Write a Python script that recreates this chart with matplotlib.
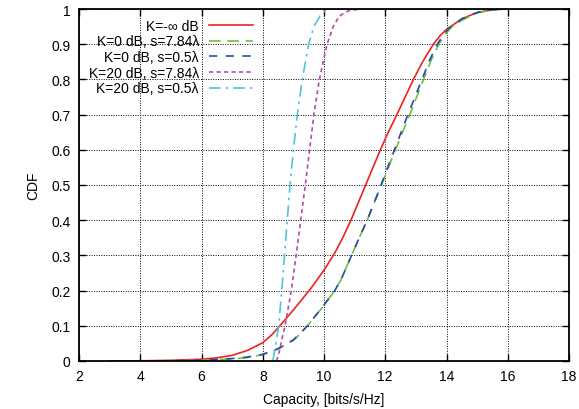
import matplotlib
matplotlib.use("Agg")
import matplotlib.pyplot as plt

plt.rcParams['font.family'] = ['Liberation Sans', 'DejaVu Sans']

# K = -inf dB
x_red = [3.0, 4.0, 5.0, 6.0, 6.5, 7.0, 7.5, 8.0, 8.3, 8.56, 9.0, 9.56, 10.0, 10.34, 10.6, 10.88,
         11.12, 11.36, 11.6, 11.84, 12.1, 12.38, 12.65, 12.92, 13.22, 13.57, 13.8, 14.0, 14.5, 15.0, 15.5, 16.0]
y_red = [0.0, 0.0005, 0.002, 0.005, 0.009, 0.016, 0.03, 0.052, 0.075, 0.10, 0.145, 0.205, 0.258, 0.305, 0.348, 0.40,
         0.45, 0.50, 0.55, 0.60, 0.65, 0.70, 0.75, 0.80, 0.85, 0.90, 0.925, 0.942, 0.972, 0.99, 0.998, 1.0]

# K = 0 dB, s = 7.84 lambda
x_green = [3.0, 5.0, 6.0, 7.0, 7.5, 8.0, 8.5, 9.0, 9.22, 9.46, 10.0, 10.35, 10.55, 10.9, 11.15, 11.41,
           11.64, 11.88, 12.33, 12.8, 13.25, 13.5, 13.75, 13.95, 14.15, 14.5, 15.0, 15.5, 16.0]
y_green = [0.0, 0.0005, 0.002, 0.006, 0.010, 0.018, 0.034, 0.059, 0.077, 0.10, 0.158, 0.20, 0.23, 0.30, 0.35, 0.40,
           0.45, 0.50, 0.60, 0.70, 0.80, 0.855, 0.90, 0.927, 0.947, 0.968, 0.989, 0.998, 1.0]

# K = 0 dB, s = 0.5 lambda
x_blue = [3.0, 5.0, 6.0, 7.0, 7.5, 8.0, 8.5, 9.0, 9.22, 9.46, 10.0, 10.35, 10.55, 10.9, 11.15, 11.41,
          11.64, 11.86, 12.3, 12.74, 13.2, 13.45, 13.7, 13.9, 14.1, 14.5, 15.0, 15.5, 16.0]
y_blue = [0.0, 0.0005, 0.002, 0.007, 0.011, 0.019, 0.035, 0.06, 0.078, 0.10, 0.159, 0.20, 0.23, 0.30, 0.35, 0.40,
          0.45, 0.50, 0.60, 0.70, 0.80, 0.855, 0.90, 0.927, 0.947, 0.972, 0.99, 0.998, 1.0]

# K = 20 dB, s = 7.84 lambda
x_mag = [8.45, 8.55, 8.62, 8.73, 8.93, 9.09, 9.24, 9.39, 9.53, 9.67, 9.85, 10.1, 10.3, 10.5, 10.8, 11.2]
y_mag = [0.0, 0.03, 0.06, 0.10, 0.20, 0.30, 0.40, 0.50, 0.60, 0.70, 0.80, 0.90, 0.95, 0.98, 0.995, 1.0]

# K = 20 dB, s = 0.5 lambda
x_cyan = [8.33, 8.43, 8.52, 8.62, 8.71, 8.8, 8.89, 9.0, 9.13, 9.29, 9.5, 9.67, 9.87, 10.05, 10.2]
y_cyan = [0.0, 0.05, 0.10, 0.20, 0.30, 0.40, 0.50, 0.60, 0.70, 0.80, 0.90, 0.95, 0.98, 0.995, 1.0]

labels = ['K=-\u221e dB', 'K=0 dB, s=7.84\u03bb', 'K=0 dB, s=0.5\u03bb',
          'K=20 dB, s=7.84\u03bb', 'K=20 dB, s=0.5\u03bb']
xticks = [2, 4, 6, 8, 10, 12, 14, 16, 18]
yticks = [0, 0.1, 0.2, 0.3, 0.4, 0.5, 0.6, 0.7, 0.8, 0.9, 1]
ytick_labels = ['0', '0.1', '0.2', '0.3', '0.4', '0.5', '0.6', '0.7', '0.8', '0.9', '1']

fig = plt.figure(figsize=(5.79, 4.10), dpi=100)
ax = fig.add_axes([79/579, 1-362/410, 490/579, 352/410])

lw = 1.2
ax.plot(x_red, y_red, color='#ee2222', lw=lw, label=labels[0])
ax.plot(x_green, y_green, color='#6cbf3c', lw=lw, dashes=(7, 4), label=labels[1])
ax.plot(x_blue, y_blue, color='#2a48a8', lw=lw, dashes=(5, 5), label=labels[2])
ax.plot(x_mag, y_mag, color='#b848a8', lw=lw, dashes=(2.5, 2), label=labels[3])
ax.plot(x_cyan, y_cyan, color='#4cc4dc', lw=lw, dashes=(7, 3, 1.5, 3), label=labels[4])

ax.set_xlim(2, 18)
ax.set_ylim(0, 1)
ax.set_xticks(xticks)
ax.set_yticks(yticks)
ax.set_yticklabels(ytick_labels)
ax.grid(True, color='black', linestyle=(0, (1, 1.5)), linewidth=0.7)
ax.tick_params(direction='in', top=True, right=True, length=5, width=1, labelsize=10, pad=6)
for s in ax.spines.values():
    s.set_linewidth(1.3)

ax.set_xlabel('Capacity, [bits/s/Hz]', fontsize=10, labelpad=6)
ax.set_ylabel('CDF', fontsize=10, labelpad=8)

leg = ax.legend(loc='upper left', bbox_to_anchor=(0.0, 1.0), markerfirst=False,
                frameon=False, fontsize=10, handlelength=3.2, labelspacing=0.12,
                borderaxespad=0.3, handletextpad=0.7)
for t in leg.get_texts():
    t.set_ha('right')

fig.savefig('out.png', dpi=100)
